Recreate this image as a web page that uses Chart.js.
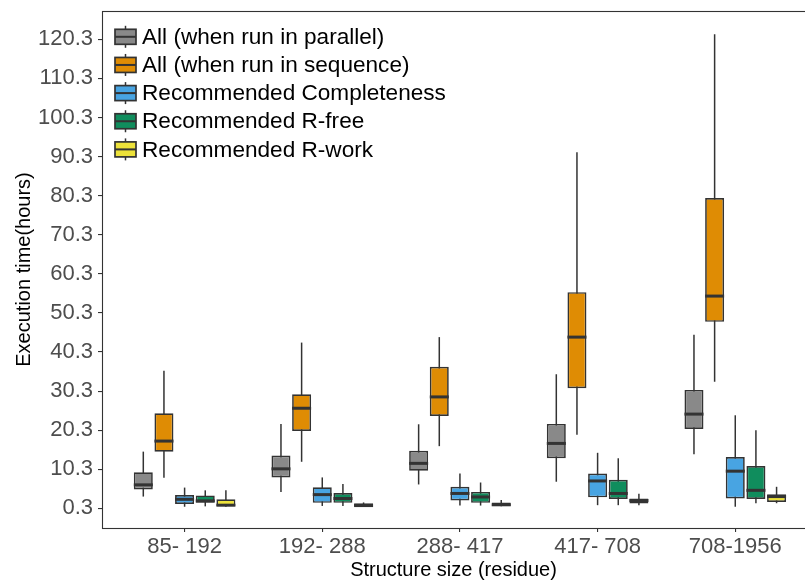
<!DOCTYPE html>
<html>
<head>
<meta charset="utf-8">
<title>Execution time by structure size</title>
<script src="https://cdn.jsdelivr.net/npm/chart.js@4.4.1/dist/chart.umd.min.js"></script>
<style>
  html, body { margin: 0; padding: 0; background: #ffffff; overflow: hidden; }
  canvas { display: block; }
</style>
</head>
<body>
<canvas id="chart" width="805" height="580"></canvas>
<script>
// Structure-size bins (residues) along the x axis
const sizeBins = ['85- 192', '192- 288', '288- 417', '417- 708', '708-1956'];

// Tick values on the execution-time axis (hours)
const hourTicks = [0.3, 10.3, 20.3, 30.3, 40.3, 50.3, 60.3, 70.3, 80.3, 90.3, 100.3, 110.3, 120.3];

const seriesNames = [
  'All (when run in parallel)',
  'All (when run in sequence)',
  'Recommended Completeness',
  'Recommended R-free',
  'Recommended R-work'
];

// Five-number summaries per size bin: [lower whisker, Q1, median, Q3, upper whisker]
const allParallel = [
  [3.3, 5.1, 6.3, 9.5, 14.8],
  [4.5, 8.2, 10.4, 13.8, 21.9],
  [6.4, 9.9, 11.8, 15.0, 21.8],
  [7.1, 13.1, 16.9, 21.9, 34.6],
  [14.1, 20.6, 24.4, 30.6, 44.7]
];
const allSequence = [
  [8.1, 14.8, 17.5, 24.6, 35.5],
  [12.2, 20.1, 25.9, 29.5, 42.7],
  [16.2, 23.9, 28.8, 36.5, 44.1],
  [19.1, 31.0, 44.1, 55.6, 91.4],
  [32.7, 48.0, 54.6, 79.7, 121.6]
];
const recCompleteness = [
  [0.7, 1.4, 2.6, 3.7, 5.6],
  [0.9, 1.7, 3.8, 5.7, 8.2],
  [1.0, 2.3, 4.1, 5.8, 9.2],
  [1.1, 3.1, 7.3, 9.2, 14.5],
  [0.7, 2.8, 9.8, 13.4, 24.1]
];
const recRfree = [
  [0.8, 1.7, 2.2, 3.6, 4.9],
  [0.9, 1.7, 2.8, 4.2, 6.5],
  [1.0, 1.7, 3.2, 4.5, 6.9],
  [1.1, 2.7, 4.1, 7.6, 13.1],
  [1.6, 2.7, 4.9, 11.1, 20.3]
];
const recRwork = [
  [0.7, 0.8, 1.1, 2.6, 4.9],
  [0.8, 0.9, 1.0, 1.6, 1.8],
  [0.8, 0.9, 1.2, 1.8, 2.4],
  [1.1, 1.5, 2.3, 2.8, 4.0],
  [1.6, 1.9, 3.3, 3.9, 5.8]
];

const seriesStats = [allParallel, allSequence, recCompleteness, recRfree, recRwork];

// Styling
const fills = ['#898989', '#DF8C04', '#48A4E2', '#108D5D', '#EDE23A'];
const INK = '#333333';
const FONT = "'Liberation Sans', Arial, Helvetica, sans-serif";

// Boxes are floating bars spanning Q1..Q3
const datasets = seriesNames.map((name, s) => ({
  label: name,
  data: seriesStats[s].map((st, i) => ({ x: i + 1, y: [st[1], st[3]] })),
  backgroundColor: fills[s],
  borderColor: INK,
  borderWidth: 1.7,
  borderSkipped: false,
  categoryPercentage: 0.75,
  barPercentage: 0.92
}));

// Whiskers behind the boxes, median bars on top
const boxParts = {
  id: 'boxParts',
  beforeDatasetsDraw(chart) {
    const { ctx, scales: { y } } = chart;
    ctx.save();
    ctx.strokeStyle = INK;
    ctx.lineWidth = 1.5;
    seriesStats.forEach((stats, s) => {
      const meta = chart.getDatasetMeta(s);
      meta.data.forEach((bar, i) => {
        const st = stats[i];
        ctx.beginPath();
        ctx.moveTo(bar.x, y.getPixelForValue(st[0]));
        ctx.lineTo(bar.x, y.getPixelForValue(st[4]));
        ctx.stroke();
      });
    });
    ctx.restore();
  },
  afterDatasetsDraw(chart) {
    const { ctx, scales: { y } } = chart;
    ctx.save();
    ctx.strokeStyle = INK;
    ctx.lineWidth = 3;
    seriesStats.forEach((stats, s) => {
      const meta = chart.getDatasetMeta(s);
      meta.data.forEach((bar, i) => {
        const py = y.getPixelForValue(stats[i][2]);
        const half = bar.width / 2;
        ctx.beginPath();
        ctx.moveTo(bar.x - half, py);
        ctx.lineTo(bar.x + half, py);
        ctx.stroke();
      });
    });
    ctx.restore();
  }
};

// Panel border and the boxplot key in the top-left corner
const panelAndKey = {
  id: 'panelAndKey',
  afterDraw(chart) {
    const { ctx, chartArea: a } = chart;
    ctx.save();
    ctx.strokeStyle = INK;
    ctx.lineWidth = 1.1;
    ctx.strokeRect(a.left + 0.5, a.top + 0.5, a.right - a.left + 20, a.bottom - a.top);

    const keyLeft = a.left + 13;
    const keyW = 21;
    const firstRow = a.top + 25.8;
    const rowGap = 28.15;
    ctx.font = '22.6px ' + FONT;
    ctx.textBaseline = 'middle';
    ctx.textAlign = 'left';
    seriesNames.forEach((name, s) => {
      const cy = firstRow + s * rowGap;
      const cx = keyLeft + keyW / 2;
      ctx.strokeStyle = INK;
      ctx.lineWidth = 1.5;
      ctx.beginPath();
      ctx.moveTo(cx, cy - 11);
      ctx.lineTo(cx, cy + 11);
      ctx.stroke();
      ctx.fillStyle = fills[s];
      ctx.fillRect(keyLeft, cy - 7.5, keyW, 15);
      ctx.lineWidth = 1.7;
      ctx.strokeRect(keyLeft, cy - 7.5, keyW, 15);
      ctx.lineWidth = 2;
      ctx.beginPath();
      ctx.moveTo(keyLeft, cy);
      ctx.lineTo(keyLeft + keyW, cy);
      ctx.stroke();
      ctx.fillStyle = '#000000';
      ctx.fillText(name, keyLeft + keyW + 6, cy + 1);
    });
    ctx.restore();
  }
};

const axisGrid = {
  drawOnChartArea: false,
  drawTicks: true,
  offset: false,
  tickLength: 4,
  color: INK,
  lineWidth: 1.1
};

new Chart(document.getElementById('chart'), {
  type: 'bar',
  data: { datasets },
  plugins: [boxParts, panelAndKey],
  options: {
    responsive: false,
    animation: false,
    devicePixelRatio: 1,
    layout: { padding: { top: 11, right: 0, bottom: 0, left: 0 } },
    plugins: {
      legend: { display: false },
      tooltip: { enabled: false }
    },
    scales: {
      x: {
        type: 'linear',
        min: 0.4,
        max: 5.5065,
        offset: false,
        afterBuildTicks: sc => { sc.ticks = sizeBins.map((_, i) => ({ value: i + 1 })); },
        afterFit: sc => { sc.height = 52; sc.paddingLeft = 0; sc.paddingRight = 0; },
        grid: axisGrid,
        border: { display: false },
        ticks: {
          autoSkip: false,
          maxRotation: 0,
          padding: 2,
          color: '#4D4D4D',
          font: { family: FONT, size: 22 },
          callback: v => sizeBins[v - 1]
        },
        title: {
          display: true,
          text: 'Structure size (residue)',
          color: '#000000',
          font: { family: FONT, size: 20, lineHeight: 1 },
          padding: { top: 0, bottom: 0 }
        }
      },
      y: {
        min: -4.74,
        max: 127.54,
        afterBuildTicks: sc => { sc.ticks = hourTicks.map(v => ({ value: v })); },
        afterFit: sc => { sc.width = 102; sc.paddingTop = 0; sc.paddingBottom = 0; },
        grid: axisGrid,
        border: { display: false },
        ticks: {
          padding: 5,
          color: '#4D4D4D',
          font: { family: FONT, size: 22 },
          callback: v => v.toFixed(1)
        },
        title: {
          display: true,
          text: 'Execution time(hours)',
          color: '#000000',
          font: { family: FONT, size: 20, lineHeight: 1.2 },
          padding: { top: 12, bottom: 0 }
        }
      }
    }
  }
});
</script>
</body>
</html>
